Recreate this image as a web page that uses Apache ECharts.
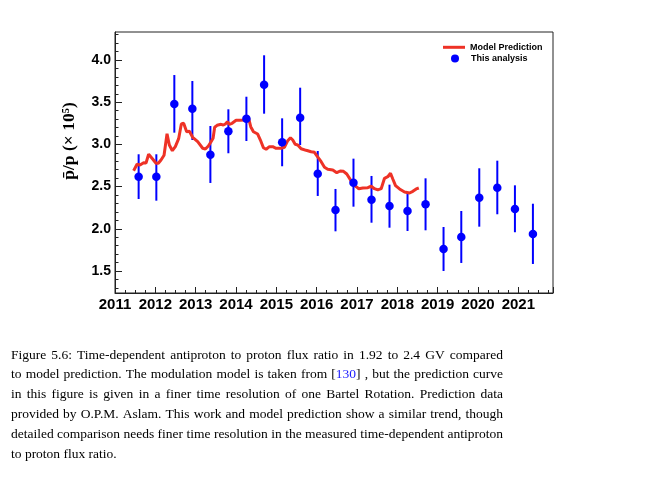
<!DOCTYPE html>
<html>
<head>
<meta charset="utf-8">
<script src="https://cdn.jsdelivr.net/npm/echarts@6/dist/echarts.min.js"></script>
<style>
html,body{margin:0;padding:0;background:#fff;}
#chart{width:666px;height:486px;}
</style>
</head>
<body>
<div id="chart"></div>
<script>
// ---- data ----
const yearTicks = [2011, 2012, 2013, 2014, 2015, 2016, 2017, 2018, 2019, 2020, 2021];
const ratioTicks = [1.5, 2.0, 2.5, 3.0, 3.5, 4.0];

const dataYears = [2011.586, 2012.025, 2012.471, 2012.918, 2013.365, 2013.811, 2014.258, 2014.697,
  2015.144, 2015.591, 2016.027, 2016.467, 2016.913, 2017.360, 2017.806, 2018.253, 2018.700,
  2019.146, 2019.586, 2020.032, 2020.479, 2020.916, 2021.362];
const dataRatio = [2.617, 2.617, 3.479, 3.423, 2.878, 3.155, 3.305, 3.707, 3.025, 3.316, 2.653,
  2.223, 2.546, 2.345, 2.270, 2.211, 2.290, 1.761, 1.903, 2.369, 2.487, 2.235, 1.938];
const dataHigh = [2.883, 2.883, 3.822, 3.751, 3.218, 3.416, 3.565, 4.056, 3.309, 3.672, 2.922,
  2.472, 2.831, 2.626, 2.523, 2.428, 2.598, 2.021, 2.211, 2.717, 2.807, 2.515, 2.297];
const dataLow = [2.353, 2.333, 3.139, 3.052, 2.543, 2.895, 3.040, 3.364, 2.741, 2.993, 2.389,
  1.970, 2.262, 2.072, 2.013, 1.974, 1.982, 1.500, 1.595, 2.025, 2.172, 1.959, 1.583];

const modelYears = [2011.462, 2011.546, 2011.620, 2011.710, 2011.769, 2011.834, 2011.933, 2012.017,
  2012.074, 2012.141, 2012.216, 2012.290, 2012.347, 2012.422, 2012.496, 2012.578, 2012.645, 2012.702,
  2012.777, 2012.844, 2012.926, 2013.050, 2013.174, 2013.241, 2013.315, 2013.382, 2013.432, 2013.471,
  2013.531, 2013.630, 2013.687, 2013.737, 2013.787, 2013.836, 2013.903, 2014.002, 2014.102, 2014.208,
  2014.251, 2014.308, 2014.365, 2014.432, 2014.538, 2014.605, 2014.680, 2014.747, 2014.829, 2014.911,
  2014.995, 2015.119, 2015.201, 2015.283, 2015.350, 2015.407, 2015.467, 2015.531, 2015.615, 2015.739,
  2015.864, 2015.945, 2016.020, 2016.112, 2016.194, 2016.275, 2016.400, 2016.499, 2016.583, 2016.665,
  2016.747, 2016.831, 2016.896, 2016.980, 2017.045, 2017.144, 2017.268, 2017.352, 2017.434, 2017.516,
  2017.600, 2017.682, 2017.764, 2017.831, 2017.888, 2017.955, 2018.055, 2018.179, 2018.303, 2018.385,
  2018.469, 2018.533];
const modelRatio = [2.688, 2.764, 2.756, 2.783, 2.780, 2.883, 2.827, 2.776,
  2.776, 2.815, 2.871, 3.127, 2.993, 2.925, 2.973, 3.068, 3.242, 3.250,
  3.150, 3.155, 3.084, 3.032, 2.954, 2.945, 2.981, 3.032, 3.072, 3.203,
  3.226, 3.238, 3.230, 3.242, 3.269, 3.238, 3.250, 3.286, 3.286, 3.289,
  3.336, 3.321, 3.210, 3.150, 3.123, 3.052, 2.961, 2.942, 2.973, 2.973,
  2.954, 2.954, 2.966, 3.044, 3.079, 3.052, 3.001, 2.993, 2.949, 2.930,
  2.913, 2.906, 2.854, 2.795, 2.729, 2.705, 2.697, 2.665, 2.685, 2.681,
  2.649, 2.586, 2.527, 2.499, 2.475, 2.483, 2.487, 2.504, 2.475, 2.460,
  2.475, 2.598, 2.617, 2.658, 2.590, 2.511, 2.472, 2.436, 2.424, 2.444,
  2.472, 2.483];

const captionLines = [
  'Figure 5.6:  Time-dependent antiproton to proton flux ratio in 1.92 to 2.4 GV compared',
  'to model prediction. The modulation model is taken from [130] , but the prediction curve',
  'in this figure is given in a finer time resolution of one Bartel Rotation.  Prediction data',
  'provided by O.P.M. Aslam. This work and model prediction show a similar trend, though',
  'detailed comparison needs finer time resolution in the measured time-dependent antiproton',
  'to proton flux ratio.'
];
const yTitle = 'p\u0304/p (\u00d7 10\u2075)';
const seriesNames = ['Model Prediction', 'This analysis'];

// ---- layout / style ----
const X_MIN = 2011, X_MAX = 2021.86, Y_MIN = 1.239, Y_MAX = 4.332;
const minorY = [];
for (let v = 13; v <= 43; v++) minorY.push(v / 10);

const chart = echarts.init(document.getElementById('chart'), null, {renderer: 'canvas'});

// caption as justified words
function captionGraphics() {
  const family = '"Liberation Serif", "DejaVu Serif", serif';
  const left = 11, right = 503, top = 355, lh = 19.8;
  const ctx = document.createElement('canvas').getContext('2d');
  let fs = 14.5;
  ctx.font = fs + 'px ' + family;
  const spaceW = ctx.measureText(' ').width;
  let maxNat = 0;
  captionLines.forEach(l => {
    const w = l.split(/\s+/).reduce((s, t) => s + ctx.measureText(t).width, 0) +
      (l.split(/\s+/).length - 1) * spaceW;
    if (w > maxNat) maxNat = w;
  });
  if (maxNat > (right - left)) fs = fs * (right - left) / maxNat;
  ctx.font = fs + 'px ' + family;
  const els = [];
  captionLines.forEach((line, i) => {
    const words = line.split(/\s+/).filter(Boolean);
    const widths = words.map(w => ctx.measureText(w).width);
    const total = widths.reduce((a, b) => a + b, 0);
    const last = i === captionLines.length - 1;
    const gap = last ? ctx.measureText(' ').width : (right - left - total) / (words.length - 1);
    let x = left;
    words.forEach((w, j) => {
      const isRef = w === '[130]';
      els.push({
        type: 'text', x: x, y: top + i * lh, silent: true,
        style: isRef ? {
          text: '[{b|130}]', fontSize: fs, fontFamily: family, fill: '#000',
          verticalAlign: 'middle', align: 'left',
          rich: {b: {fill: '#1a1aff', fontSize: fs, fontFamily: family}}
        } : {
          text: w, fontSize: fs, fontFamily: family, fill: '#000',
          verticalAlign: 'middle', align: 'left'
        }
      });
      x += widths[j] + gap;
    });
  });
  return els;
}

const option = {
  animation: false,
  backgroundColor: '#fff',
  grid: {left: 115, right: 113, top: 32, bottom: 193, show: true, borderColor: '#222', borderWidth: 1, backgroundColor: 'transparent'},
  legend: [
    {
      data: [{name: seriesNames[0], icon: 'rect'}],
      left: 443, top: 42.8, padding: 0, itemWidth: 22, itemHeight: 3,
      selectedMode: false,
      textStyle: {fontSize: 9, fontWeight: 'bold', color: '#000', fontFamily: '"Liberation Sans", Arial, sans-serif'}
    },
    {
      data: [{name: seriesNames[1], icon: 'circle'}],
      left: 451, top: 54, padding: 0, itemWidth: 8, itemHeight: 8,
      selectedMode: false,
      textStyle: {fontSize: 9, fontWeight: 'bold', color: '#000', padding: [0, 0, 0, 7], fontFamily: '"Liberation Sans", Arial, sans-serif'}
    }
  ],
  xAxis: {
    type: 'value', min: X_MIN, max: X_MAX, interval: 1,
    splitLine: {show: false},
    axisLine: {show: true, onZero: false, lineStyle: {color: '#222', width: 1}},
    axisTick: {show: true, inside: true, length: 6, lineStyle: {color: '#222', width: 1}},
    minorTick: {show: true, splitNumber: 4, length: 3, lineStyle: {color: '#222', width: 1}},
    axisLabel: {
      show: true, margin: 4, color: '#000', fontSize: 15, fontWeight: 'bold',
      fontFamily: '"Liberation Sans", Arial, sans-serif',
      showMaxLabel: false, hideOverlap: false,
      formatter: v => (yearTicks.indexOf(Math.round(v)) >= 0 && Math.abs(v - Math.round(v)) < 1e-6) ? String(Math.round(v)) : ''
    }
  },
  yAxis: [
    {
      type: 'value', min: Y_MIN, max: Y_MAX,
      splitLine: {show: false},
      axisLine: {show: true, onZero: false, lineStyle: {color: '#222', width: 1}},
      axisTick: {show: true, inside: true, length: 7, customValues: ratioTicks, lineStyle: {color: '#222', width: 1}},
      axisLabel: {
        show: true, margin: 4, color: '#000', fontSize: 14, fontWeight: 'bold',
        fontFamily: '"Liberation Sans", Arial, sans-serif',
        customValues: ratioTicks, formatter: v => v.toFixed(1)
      }
    },
    {
      type: 'value', min: Y_MIN, max: Y_MAX, position: 'left',
      splitLine: {show: false},
      axisLine: {show: false},
      axisTick: {show: true, inside: true, length: 3.5, customValues: minorY, lineStyle: {color: '#222', width: 1}},
      axisLabel: {show: false}
    }
  ],
  graphic: [
    {
      type: 'text', x: 69, y: 141, rotation: Math.PI / 2, silent: true,
      style: {
        text: yTitle, fontSize: 17.5, fontWeight: 'bold',
        fontFamily: '"Liberation Serif", "DejaVu Serif", serif',
        fill: '#000', align: 'center', verticalAlign: 'middle'
      }
    }
  ].concat(captionGraphics()),
  series: [
    {
      name: 'errors', type: 'custom', z: 2, silent: true,
      data: dataYears.map((x, i) => [x, dataLow[i], dataHigh[i]]),
      encode: {x: 0, y: [1, 2]},
      renderItem: function (params, api) {
        const p1 = api.coord([api.value(0), api.value(1)]);
        const p2 = api.coord([api.value(0), api.value(2)]);
        return {
          type: 'line',
          shape: {x1: p1[0], y1: p1[1], x2: p2[0], y2: p2[1]},
          style: {stroke: '#0000ff', lineWidth: 2}
        };
      }
    },
    {
      name: seriesNames[0], type: 'line', z: 3, silent: true,
      data: modelYears.map((x, i) => [x, modelRatio[i]]),
      showSymbol: false, symbol: 'none', smooth: false,
      lineStyle: {color: '#ee3226', width: 3},
      itemStyle: {color: '#ee3226'}
    },
    {
      name: seriesNames[1], type: 'scatter', z: 4, silent: true,
      data: dataYears.map((x, i) => [x, dataRatio[i]]),
      symbol: 'circle', symbolSize: 8.5,
      itemStyle: {color: '#0000ff', opacity: 1}
    }
  ]
};
chart.setOption(option);
</script>
</body>
</html>
